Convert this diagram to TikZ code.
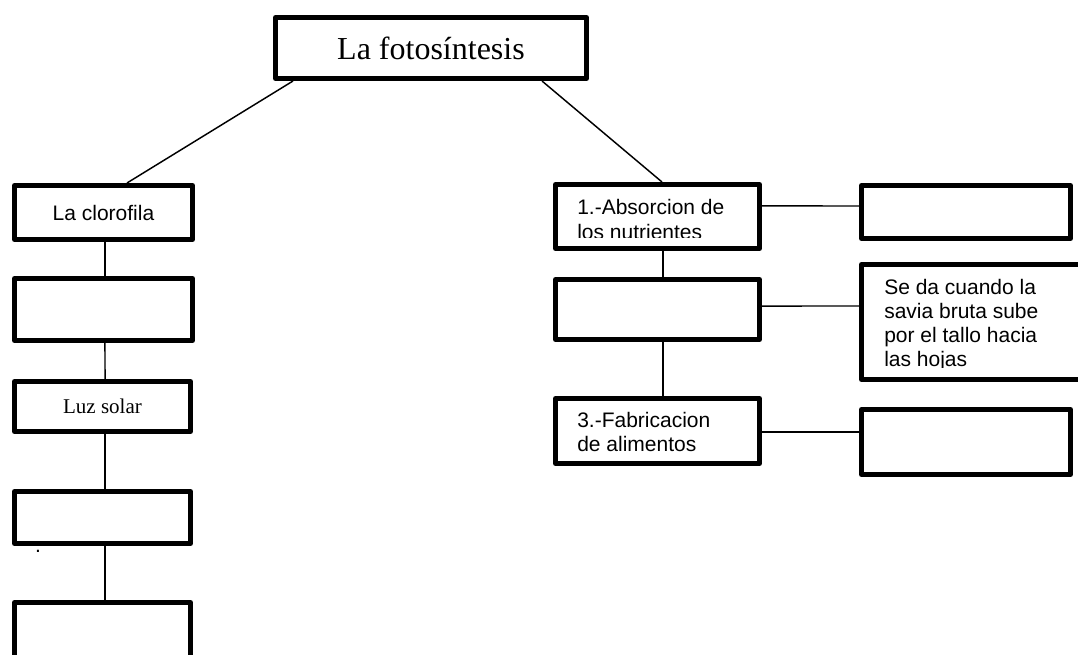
\documentclass[tikz,border=0pt]{standalone}
\usepackage{fontspec}
\setmainfont{Liberation Serif}
\newfontfamily\arialfont{Liberation Sans}
\usetikzlibrary{calc}
\tikzset{
  box/.style={draw=black, line width=3.75pt, fill=white, inner sep=0pt, line join=round},
  conn/.style={draw=black, line width=1.1pt},
  sanstext/.style={inner sep=0pt, font=\arialfont\fontsize{15.75pt}{18pt}\selectfont, align=left, anchor=base west},
}
\begin{document}
\begin{tikzpicture}[x=0.75pt,y=-0.75pt]
\clip (0,0) rectangle (1078,655);
\fill[white] (0,0) rectangle (1078,655);

% boxes
\node[box, minimum width=233.25pt, minimum height=45.75pt, font=\fontsize{24pt}{28pt}\selectfont] (top) at (431,48) {La fotosíntesis};
\node[box, minimum width=133.5pt, minimum height=40.5pt, font=\arialfont\fontsize{15.75pt}{18pt}\selectfont] (clor) at (103.5,212.5) {La clorofila};
\node[box, minimum width=133.5pt, minimum height=46.5pt] (L2) at (103.5,309.5) {};
\node[box, minimum width=132pt, minimum height=37.5pt, font=\fontsize{15.75pt}{18pt}\selectfont] (luz) at (102.5,406.5) {Luz solar};
\node[box, minimum width=132pt, minimum height=39pt] (L4) at (102.5,517.5) {};
\node[box, minimum width=132pt, minimum height=45pt] (L5) at (102.5,632.5) {};

\node[box, minimum width=153pt, minimum height=48pt] (R1) at (657.5,216.5) {};
\node[box, minimum width=153pt, minimum height=45pt] (R2) at (657.5,309.5) {};
\node[box, minimum width=153pt, minimum height=48.75pt] (R3) at (657.5,431) {};

\node[box, minimum width=156.75pt, minimum height=39.75pt] (F1) at (966,212) {};
\node[box, minimum width=169.5pt, minimum height=86.25pt] (F2) at (974.5,322) {};
\node[box, minimum width=156.75pt, minimum height=48.75pt] (F3) at (966,442) {};

% texts (anchor base = baseline of the last line)
\begin{scope}
  \clip (553,182) rectangle (762,237.7);
  \node[sanstext, font=\arialfont\fontsize{15.75pt}{18.75pt}\selectfont] (t1) at (577,240) {1.-Absorcion de\\los nutrientes};
\end{scope}
\begin{scope}
  \clip (859,262) rectangle (1078,368);
  \node[sanstext] (t2) at (884,367) {Se da cuando la\\savia bruta sube\\por el tallo hacia\\las hojas};
\end{scope}
\node[sanstext] (t3) at (577,452) {3.-Fabricacion\\de alimentos};
\node[inner sep=0pt, font=\arialfont\fontsize{15.75pt}{18pt}\selectfont] (dot) at (38,551) {.};

% connectors
\draw[conn] ([xshift=15pt]top.south west) -- ([xshift=86.25pt]clor.north west);
\draw[conn] ([xshift=-35.25pt]top.south east) -- ([xshift=81.75pt]R1.north west);
\draw[conn] ([xshift=1.1pt]clor.south) -- ([xshift=1.1pt]L2.north);
\draw[conn] ([xshift=1.1pt]L2.south) -- ([xshift=1.9pt]luz.north);
\draw[conn] ([xshift=1.9pt]luz.south) -- ([xshift=1.9pt]L4.north);
\draw[conn] ([xshift=1.9pt]L4.south) -- ([xshift=1.9pt]L5.north);
\draw[conn] ([xshift=4.1pt]R1.south) -- ([xshift=4.1pt]R2.north);
\draw[conn] ([xshift=4.1pt]R2.south) -- ([xshift=4.1pt]R3.north);
\draw[conn] ([yshift=7.9pt]R1.east) -- ([yshift=4.5pt]F1.west);
\draw[conn] ([yshift=2.6pt]R2.east) -- ([yshift=12pt]F2.west);
\draw[conn] ([yshift=-0.75pt]R3.east) -- ([yshift=7.5pt]F3.west);
\end{tikzpicture}
\end{document}
